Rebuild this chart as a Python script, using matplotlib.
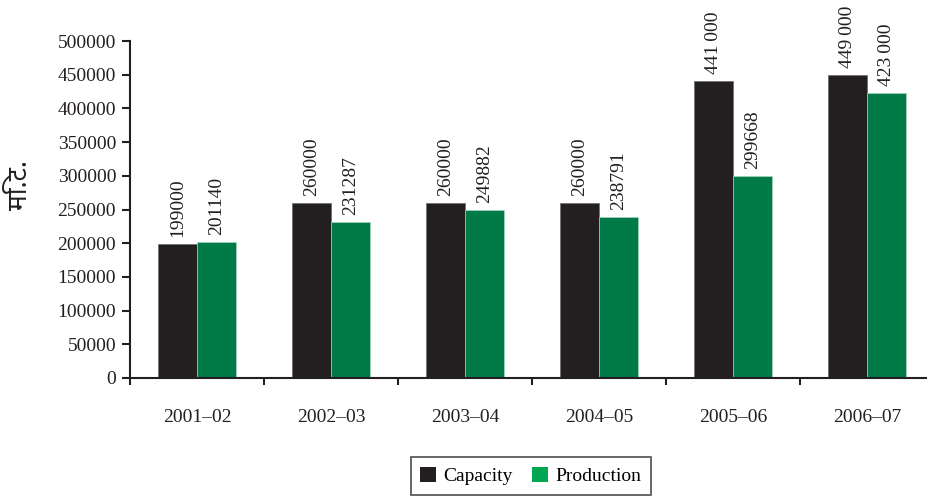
import numpy as np
import matplotlib.pyplot as plt
from matplotlib.patches import Patch

years = ['2001–02', '2002–03', '2003–04', '2004–05', '2005–06', '2006–07']
capacity = [199000, 260000, 260000, 260000, 441000, 449000]
production = [201140, 231287, 249882, 238791, 299668, 423000]
cap_labels = ['199000', '260000', '260000', '260000', '441\u2009000', '449\u2009000']
prod_labels = ['201140', '231287', '249882', '238791', '299668', '423\u2009000']
yticks = [0, 50000, 100000, 150000, 200000, 250000, 300000, 350000, 400000, 450000, 500000]

plt.rcParams['font.family'] = ['Liberation Serif', 'DejaVu Serif']

fig = plt.figure(figsize=(9.27, 4.99), dpi=100)
ax = fig.add_axes([130 / 927, 1 - 378 / 499, 804 / 927, 337 / 499])

x = np.arange(len(years))
w = 0.29
dark = '#231f20'
green = '#007a47'
b1 = ax.bar(x - w / 2, capacity, w, color=dark, edgecolor='#6d6e71', linewidth=0.5)
b2 = ax.bar(x + w / 2, production, w, color=green, edgecolor='#a6d5bd', linewidth=0.5)

# value labels above the bars
for bars, labels in ((b1, cap_labels), (b2, prod_labels)):
    for r, lab in zip(bars, labels):
        ax.annotate(lab, (r.get_x() + r.get_width() / 2, r.get_height()),
                    xytext=(0, 5), textcoords='offset points',
                    ha='center', va='bottom', rotation=90,
                    fontsize=14, color='#231f20')

ax.set_xlim(-0.5, 5.5)
ax.set_ylim(0, 500000)
ax.set_yticks(yticks)
ax.set_yticklabels([str(v) for v in yticks], fontsize=14, color='#231f20')
ax.set_xticks(x)
ax.set_xticklabels(years, fontsize=14, color='#231f20')
ax.set_xticks(np.arange(-0.5, 5.6, 1), minor=True)
ax.tick_params(axis='x', which='major', length=0, pad=22)
ax.tick_params(axis='x', which='minor', length=5, width=1.5, direction='out', color='#231f20')
ax.tick_params(axis='y', length=6, width=1.5, direction='out', color='#231f20', pad=4)

for s in ('top', 'right'):
    ax.spines[s].set_visible(False)
for s in ('left', 'bottom'):
    ax.spines[s].set_linewidth(1.5)
    ax.spines[s].set_color('#231f20')

fig.text(20 / 927, 1 - 185 / 499, 'मि.ट.', rotation=90, ha='center', va='center',
         fontsize=19, color='#231f20',
         family=['Noto Sans', 'Lohit Devanagari', 'FreeSans', 'DejaVu Sans'])

handles = [Patch(facecolor=dark, label='Capacity'), Patch(facecolor='#00a651', label='Production')]
leg = fig.legend(handles=handles, loc='center', bbox_to_anchor=(531 / 927, 1 - 476 / 499),
                 ncol=2, fontsize=14, frameon=True, fancybox=False,
                 handlelength=0.8, handleheight=0.8, handletextpad=0.4, columnspacing=1.0,
                 borderpad=0.5)
leg.get_frame().set_edgecolor('#231f20')
leg.get_frame().set_linewidth(1.2)

fig.savefig('out.png', dpi=100)
